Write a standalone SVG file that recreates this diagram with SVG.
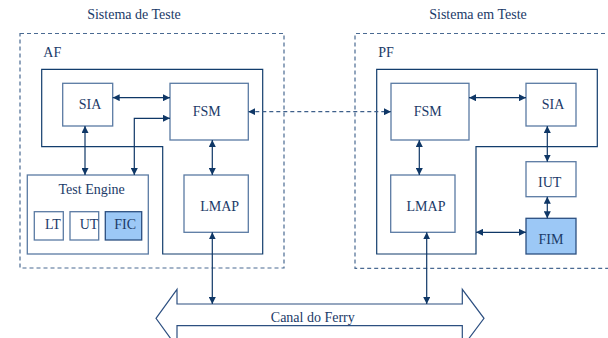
<svg xmlns="http://www.w3.org/2000/svg" width="608" height="338" viewBox="0 0 608 338">
<style>
text{font-family:'Liberation Serif','Times New Roman',serif;font-size:14px;fill:#1b3a68;text-anchor:middle}
.st{text-anchor:start}
.box{fill:#fff;stroke:#5a7aa3;stroke-width:1.3}
.hl{fill:#9cc8f6;stroke:#2c4f80;stroke-width:1.3}
.frame{fill:none;stroke:#123d6d;stroke-width:1.2}
.dash{fill:none;stroke:#4a6a92;stroke-width:1.2;stroke-dasharray:4 3}
.ln{fill:none;stroke:#0f3766;stroke-width:1.2;marker-start:url(#ah);marker-end:url(#ah)}
.dl{fill:none;stroke:#3e5f8a;stroke-width:1.2;stroke-dasharray:4 3;marker-start:url(#ah);marker-end:url(#ah)}
</style>
<defs>
<marker id="ah" viewBox="0 0 10 10" refX="10" refY="5" markerWidth="7" markerHeight="7" markerUnits="userSpaceOnUse" orient="auto-start-reverse">
<path d="M0,0 L10,5 L0,10 z" fill="#0f3766"/>
</marker>
</defs>
<g id="sistema-de-teste">
<rect class="dash" x="20" y="33.5" width="264" height="234.5"/>
<text x="134" y="19">Sistema de Teste</text>
</g>
<g id="sistema-em-teste">
<path class="dash" d="M612,33.5 H355 V268.3 H612"/>
<text x="478" y="19">Sistema em Teste</text>
</g>
<g id="af">
<path class="frame" d="M41.7,69.3 H262.7 V254 H162.7 V146.7 H41.7 Z"/>
<text class="st" x="43.3" y="57">AF</text>
</g>
<g id="pf">
<path class="frame" d="M376.7,69.3 H597.3 V146.7 H476 V254 H376.7 Z"/>
<text class="st" x="378.3" y="57">PF</text>
</g>
<g id="af-sia"><rect class="box" x="62.7" y="83.3" width="50" height="42.7"/><text x="90" y="108.5">SIA</text></g>
<g id="af-fsm"><rect class="box" x="170" y="83.3" width="78.3" height="56.7"/><text x="206.7" y="115.5">FSM</text></g>
<g id="test-engine"><rect class="box" x="27.3" y="175" width="121" height="79"/><text x="91.7" y="194">Test Engine</text></g>
<g id="lt"><rect class="box" x="34.3" y="211.7" width="29" height="28.3"/><text x="53" y="229">LT</text></g>
<g id="ut"><rect class="box" x="70" y="211.7" width="28.7" height="28.3"/><text x="89" y="229">UT</text></g>
<g id="fic"><rect class="hl" x="105.3" y="211.7" width="36.4" height="28.3"/><text x="125.2" y="229">FIC</text></g>
<g id="af-lmap"><rect class="box" x="184" y="175" width="64.3" height="57.3"/><text x="219.7" y="211">LMAP</text></g>
<g id="pf-fsm"><rect class="box" x="391" y="83.3" width="78" height="56.7"/><text x="427.8" y="115.5">FSM</text></g>
<g id="pf-sia"><rect class="box" x="526" y="83.3" width="50" height="42.7"/><text x="553" y="108.5">SIA</text></g>
<g id="iut"><rect class="box" x="526" y="161.7" width="50" height="35"/><text x="549.7" y="187">IUT</text></g>
<g id="fim"><rect class="hl" x="526" y="218.3" width="50" height="35.7"/><text x="551" y="243.5">FIM</text></g>
<g id="pf-lmap"><rect class="box" x="390.7" y="175" width="64.3" height="57.3"/><text x="426" y="211">LMAP</text></g>
<g id="canal-do-ferry">
<path fill="#fff" stroke="#2c4f80" stroke-width="1.2" d="M156,318.3 L177,289.3 V304 H462.3 V289.3 L484,318.3 L462.3,347.3 V325.7 H177 V347.3 Z"/>
<text x="312.8" y="321.5">Canal do Ferry</text>
</g>
<g id="connectors">
<line class="ln" x1="112.7" y1="97.7" x2="170" y2="97.7"/>
<polyline class="ln" points="170,118.3 134.3,118.3 134.3,175"/>
<line class="ln" x1="85" y1="126" x2="85" y2="175"/>
<line class="ln" x1="212.3" y1="140" x2="212.3" y2="175"/>
<line class="ln" x1="212.3" y1="232.3" x2="212.3" y2="304"/>
<line class="dl" x1="248.3" y1="111.7" x2="391" y2="111.7"/>
<line class="ln" x1="469" y1="97.7" x2="526" y2="97.7"/>
<line class="ln" x1="419.3" y1="140" x2="419.3" y2="175"/>
<line class="ln" x1="426.7" y1="232.3" x2="426.7" y2="304"/>
<line class="ln" x1="547.3" y1="126" x2="547.3" y2="161.7"/>
<line class="ln" x1="547.3" y1="196.7" x2="547.3" y2="218.3"/>
<line class="ln" x1="476" y1="232.3" x2="526" y2="232.3"/>
</g>
</svg>
